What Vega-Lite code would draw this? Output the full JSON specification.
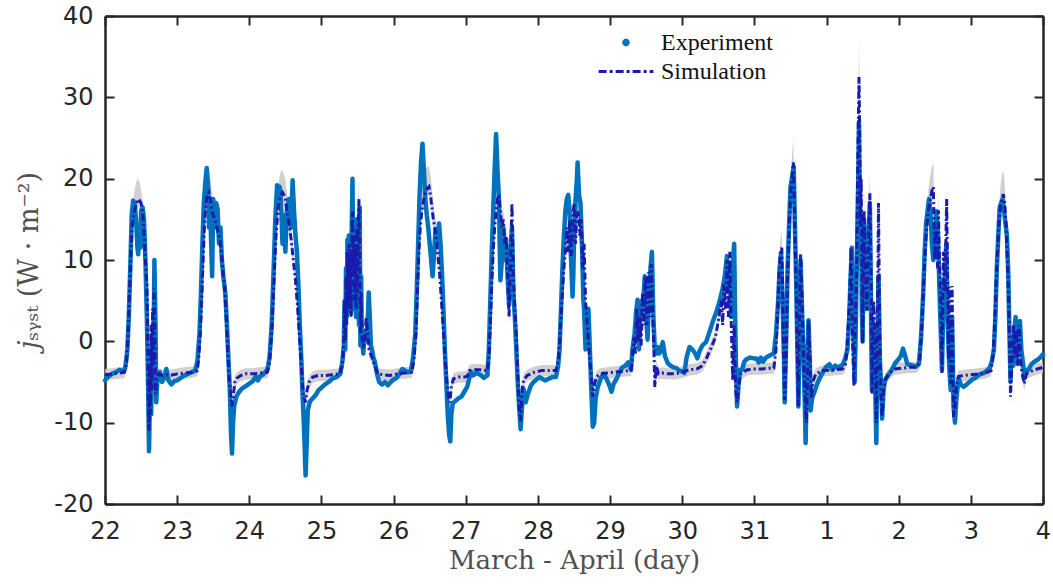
{
"$schema":"https://vega.github.io/schema/vega-lite/v6.json",
"width":938,"height":488,
"autosize":{"type":"none"},
"padding":{"left":105,"top":16,"right":10,"bottom":81},
"background":"white",
"config":{"view":{"stroke":null},"font":"DejaVu Sans"},
"datasets":{
"exp":[
{"t":0.00,"v":-4.8},{"t":0.05,"v":-4.3},{"t":0.10,"v":-4.0},{"t":0.15,"v":-3.8},{"t":0.20,"v":-3.5},{"t":0.25,"v":-3.7},{"t":0.28,"v":-3.3},{"t":0.31,"v":-1.0},{"t":0.33,"v":3.0},{"t":0.35,"v":9.0},{"t":0.37,"v":15.5},{"t":0.39,"v":17.3},{"t":0.41,"v":17.0},{"t":0.43,"v":15.0},{"t":0.45,"v":11.5},{"t":0.46,"v":10.7},{"t":0.48,"v":13.5},{"t":0.49,"v":11.5},{"t":0.50,"v":16.0},{"t":0.52,"v":16.5},{"t":0.54,"v":15.0},{"t":0.56,"v":10.0},{"t":0.58,"v":3.0},{"t":0.595,"v":-4.0},{"t":0.61,"v":-13.5},{"t":0.625,"v":-6.0},{"t":0.64,"v":-9.0},{"t":0.655,"v":0.0},{"t":0.67,"v":-4.0},{"t":0.685,"v":10.0},{"t":0.70,"v":2.0},{"t":0.71,"v":-7.5},{"t":0.73,"v":-4.0},{"t":0.76,"v":-3.8},{"t":0.79,"v":-5.0},{"t":0.82,"v":-4.5},{"t":0.85,"v":-3.4},{"t":0.88,"v":-4.8},{"t":0.92,"v":-5.3},{"t":0.96,"v":-4.9},{"t":1.00,"v":-4.8},{"t":1.05,"v":-4.5},{"t":1.10,"v":-4.2},{"t":1.15,"v":-4.0},{"t":1.20,"v":-3.8},{"t":1.25,"v":-3.6},{"t":1.28,"v":-2.5},{"t":1.31,"v":1.0},{"t":1.33,"v":6.0},{"t":1.35,"v":12.0},{"t":1.37,"v":17.0},{"t":1.39,"v":19.5},{"t":1.41,"v":21.3},{"t":1.43,"v":19.0},{"t":1.44,"v":14.0},{"t":1.46,"v":16.0},{"t":1.47,"v":12.5},{"t":1.485,"v":8.0},{"t":1.50,"v":17.5},{"t":1.52,"v":14.0},{"t":1.54,"v":17.0},{"t":1.56,"v":16.3},{"t":1.58,"v":12.0},{"t":1.60,"v":14.0},{"t":1.62,"v":10.0},{"t":1.64,"v":8.0},{"t":1.667,"v":6.0},{"t":1.69,"v":2.0},{"t":1.71,"v":-2.0},{"t":1.73,"v":-6.0},{"t":1.745,"v":-11.0},{"t":1.76,"v":-13.8},{"t":1.775,"v":-10.0},{"t":1.79,"v":-8.0},{"t":1.82,"v":-6.8},{"t":1.86,"v":-6.2},{"t":1.90,"v":-5.8},{"t":1.95,"v":-5.5},{"t":2.00,"v":-5.2},{"t":2.05,"v":-4.9},{"t":2.09,"v":-4.3},{"t":2.12,"v":-4.8},{"t":2.15,"v":-4.3},{"t":2.20,"v":-4.0},{"t":2.25,"v":-3.5},{"t":2.28,"v":-2.0},{"t":2.31,"v":2.0},{"t":2.34,"v":9.5},{"t":2.36,"v":15.0},{"t":2.385,"v":19.2},{"t":2.40,"v":18.0},{"t":2.42,"v":19.0},{"t":2.44,"v":17.0},{"t":2.46,"v":12.0},{"t":2.48,"v":15.5},{"t":2.50,"v":11.0},{"t":2.52,"v":16.0},{"t":2.55,"v":17.5},{"t":2.58,"v":14.0},{"t":2.60,"v":19.8},{"t":2.62,"v":16.0},{"t":2.64,"v":13.0},{"t":2.66,"v":11.0},{"t":2.68,"v":7.0},{"t":2.70,"v":2.0},{"t":2.72,"v":-2.0},{"t":2.74,"v":-7.0},{"t":2.76,"v":-11.0},{"t":2.78,"v":-16.5},{"t":2.79,"v":-14.0},{"t":2.81,"v":-8.5},{"t":2.84,"v":-7.4},{"t":2.88,"v":-7.0},{"t":2.92,"v":-6.6},{"t":2.96,"v":-6.0},{"t":3.00,"v":-5.7},{"t":3.05,"v":-5.3},{"t":3.10,"v":-5.0},{"t":3.15,"v":-4.6},{"t":3.20,"v":-4.4},{"t":3.26,"v":-4.0},{"t":3.29,"v":-2.5},{"t":3.31,"v":-0.5},{"t":3.32,"v":5.0},{"t":3.33,"v":-1.0},{"t":3.34,"v":9.0},{"t":3.35,"v":3.0},{"t":3.36,"v":12.5},{"t":3.37,"v":4.0},{"t":3.38,"v":13.0},{"t":3.39,"v":6.0},{"t":3.40,"v":10.0},{"t":3.41,"v":3.5},{"t":3.42,"v":14.0},{"t":3.43,"v":20.0},{"t":3.44,"v":9.0},{"t":3.45,"v":12.0},{"t":3.46,"v":4.0},{"t":3.47,"v":10.0},{"t":3.48,"v":3.0},{"t":3.49,"v":15.0},{"t":3.50,"v":5.0},{"t":3.51,"v":13.0},{"t":3.52,"v":2.0},{"t":3.53,"v":16.5},{"t":3.54,"v":-0.5},{"t":3.55,"v":8.0},{"t":3.56,"v":0.5},{"t":3.58,"v":-1.5},{"t":3.60,"v":1.0},{"t":3.62,"v":0.0},{"t":3.64,"v":2.0},{"t":3.655,"v":6.0},{"t":3.67,"v":3.0},{"t":3.685,"v":-0.5},{"t":3.70,"v":-1.0},{"t":3.72,"v":-2.0},{"t":3.74,"v":-2.5},{"t":3.77,"v":-4.0},{"t":3.80,"v":-5.0},{"t":3.84,"v":-5.3},{"t":3.88,"v":-5.0},{"t":3.92,"v":-5.4},{"t":3.96,"v":-5.0},{"t":4.00,"v":-4.7},{"t":4.04,"v":-4.5},{"t":4.08,"v":-4.0},{"t":4.12,"v":-3.4},{"t":4.16,"v":-3.6},{"t":4.20,"v":-3.8},{"t":4.24,"v":-3.6},{"t":4.27,"v":-2.0},{"t":4.30,"v":1.0},{"t":4.32,"v":6.0},{"t":4.34,"v":12.0},{"t":4.36,"v":18.0},{"t":4.38,"v":22.0},{"t":4.40,"v":24.3},{"t":4.42,"v":21.0},{"t":4.44,"v":17.5},{"t":4.46,"v":15.5},{"t":4.48,"v":14.0},{"t":4.50,"v":12.0},{"t":4.52,"v":10.0},{"t":4.54,"v":8.0},{"t":4.56,"v":10.5},{"t":4.58,"v":13.8},{"t":4.60,"v":12.0},{"t":4.63,"v":14.5},{"t":4.65,"v":12.0},{"t":4.67,"v":8.5},{"t":4.69,"v":4.0},{"t":4.71,"v":-1.0},{"t":4.73,"v":-5.0},{"t":4.75,"v":-9.0},{"t":4.77,"v":-11.5},{"t":4.785,"v":-12.3},{"t":4.80,"v":-9.0},{"t":4.82,"v":-7.6},{"t":4.86,"v":-7.3},{"t":4.90,"v":-7.0},{"t":4.94,"v":-6.8},{"t":4.98,"v":-6.2},{"t":5.02,"v":-5.6},{"t":5.05,"v":-4.5},{"t":5.07,"v":-3.7},{"t":5.10,"v":-4.2},{"t":5.15,"v":-3.9},{"t":5.20,"v":-4.1},{"t":5.25,"v":-4.5},{"t":5.30,"v":-4.2},{"t":5.32,"v":-1.0},{"t":5.34,"v":5.0},{"t":5.36,"v":11.0},{"t":5.38,"v":16.0},{"t":5.40,"v":21.0},{"t":5.42,"v":25.5},{"t":5.44,"v":21.0},{"t":5.46,"v":17.5},{"t":5.47,"v":12.0},{"t":5.48,"v":7.5},{"t":5.50,"v":10.0},{"t":5.52,"v":14.0},{"t":5.54,"v":10.0},{"t":5.56,"v":12.5},{"t":5.58,"v":8.0},{"t":5.60,"v":4.5},{"t":5.62,"v":10.0},{"t":5.64,"v":14.0},{"t":5.66,"v":6.0},{"t":5.68,"v":3.0},{"t":5.70,"v":-1.0},{"t":5.72,"v":-5.0},{"t":5.74,"v":-8.0},{"t":5.76,"v":-10.8},{"t":5.78,"v":-8.0},{"t":5.80,"v":-5.8},{"t":5.83,"v":-7.5},{"t":5.86,"v":-6.5},{"t":5.90,"v":-5.5},{"t":5.94,"v":-5.0},{"t":5.98,"v":-4.7},{"t":6.02,"v":-4.4},{"t":6.06,"v":-4.6},{"t":6.10,"v":-4.8},{"t":6.15,"v":-4.6},{"t":6.20,"v":-4.4},{"t":6.25,"v":-4.4},{"t":6.28,"v":-3.0},{"t":6.30,"v":-1.0},{"t":6.32,"v":4.0},{"t":6.34,"v":9.0},{"t":6.36,"v":13.0},{"t":6.38,"v":16.0},{"t":6.40,"v":17.5},{"t":6.42,"v":18.0},{"t":6.44,"v":16.0},{"t":6.46,"v":10.0},{"t":6.48,"v":5.5},{"t":6.49,"v":8.0},{"t":6.50,"v":12.0},{"t":6.52,"v":17.0},{"t":6.54,"v":20.0},{"t":6.55,"v":22.0},{"t":6.57,"v":18.0},{"t":6.59,"v":17.0},{"t":6.61,"v":12.0},{"t":6.63,"v":5.0},{"t":6.64,"v":4.0},{"t":6.66,"v":-1.0},{"t":6.68,"v":3.5},{"t":6.70,"v":4.0},{"t":6.72,"v":-1.0},{"t":6.74,"v":-6.0},{"t":6.76,"v":-10.5},{"t":6.78,"v":-10.0},{"t":6.80,"v":-7.0},{"t":6.83,"v":-5.6},{"t":6.87,"v":-4.6},{"t":6.91,"v":-4.0},{"t":6.95,"v":-4.6},{"t":6.99,"v":-5.4},{"t":7.02,"v":-6.2},{"t":7.05,"v":-5.2},{"t":7.09,"v":-4.6},{"t":7.13,"v":-3.8},{"t":7.17,"v":-3.2},{"t":7.21,"v":-3.0},{"t":7.25,"v":-2.6},{"t":7.27,"v":-3.0},{"t":7.29,"v":-3.5},{"t":7.31,"v":-1.0},{"t":7.34,"v":1.0},{"t":7.36,"v":3.5},{"t":7.38,"v":5.1},{"t":7.40,"v":-1.0},{"t":7.42,"v":3.0},{"t":7.44,"v":5.0},{"t":7.46,"v":4.5},{"t":7.48,"v":8.0},{"t":7.50,"v":3.0},{"t":7.52,"v":0.2},{"t":7.54,"v":6.0},{"t":7.56,"v":9.0},{"t":7.58,"v":11.0},{"t":7.60,"v":3.0},{"t":7.62,"v":-1.0},{"t":7.64,"v":-1.5},{"t":7.66,"v":-0.7},{"t":7.68,"v":-1.5},{"t":7.70,"v":-1.2},{"t":7.73,"v":-0.1},{"t":7.76,"v":-1.8},{"t":7.80,"v":-2.7},{"t":7.84,"v":-3.0},{"t":7.88,"v":-3.2},{"t":7.92,"v":-3.3},{"t":7.96,"v":-3.6},{"t":8.00,"v":-3.7},{"t":8.03,"v":-3.9},{"t":8.06,"v":-2.0},{"t":8.10,"v":-0.7},{"t":8.14,"v":-1.0},{"t":8.18,"v":-1.5},{"t":8.21,"v":-2.1},{"t":8.24,"v":-1.2},{"t":8.28,"v":-0.5},{"t":8.33,"v":-0.1},{"t":8.38,"v":1.2},{"t":8.43,"v":2.6},{"t":8.48,"v":3.8},{"t":8.52,"v":5.0},{"t":8.56,"v":6.5},{"t":8.59,"v":8.0},{"t":8.62,"v":10.5},{"t":8.64,"v":6.0},{"t":8.66,"v":9.0},{"t":8.68,"v":3.0},{"t":8.70,"v":9.5},{"t":8.72,"v":12.0},{"t":8.73,"v":5.0},{"t":8.745,"v":-3.0},{"t":8.76,"v":-8.0},{"t":8.78,"v":-5.5},{"t":8.80,"v":-3.5},{"t":8.83,"v":-3.5},{"t":8.86,"v":-2.5},{"t":8.89,"v":-2.2},{"t":8.94,"v":-2.0},{"t":8.99,"v":-2.1},{"t":9.03,"v":-2.1},{"t":9.06,"v":-2.6},{"t":9.09,"v":-2.0},{"t":9.12,"v":-2.5},{"t":9.16,"v":-2.0},{"t":9.20,"v":-1.8},{"t":9.24,"v":-1.6},{"t":9.27,"v":-1.5},{"t":9.30,"v":1.0},{"t":9.33,"v":5.0},{"t":9.35,"v":9.0},{"t":9.37,"v":10.8},{"t":9.39,"v":5.0},{"t":9.41,"v":-2.0},{"t":9.42,"v":-7.5},{"t":9.44,"v":0.0},{"t":9.46,"v":9.0},{"t":9.48,"v":14.0},{"t":9.50,"v":19.0},{"t":9.52,"v":20.0},{"t":9.545,"v":21.5},{"t":9.56,"v":15.0},{"t":9.58,"v":7.0},{"t":9.60,"v":-3.0},{"t":9.61,"v":-8.0},{"t":9.63,"v":3.0},{"t":9.64,"v":10.0},{"t":9.66,"v":4.0},{"t":9.68,"v":-1.5},{"t":9.70,"v":-8.0},{"t":9.71,"v":-12.5},{"t":9.73,"v":-4.0},{"t":9.75,"v":2.6},{"t":9.77,"v":-3.0},{"t":9.78,"v":-8.5},{"t":9.80,"v":-7.0},{"t":9.84,"v":-6.0},{"t":9.88,"v":-5.0},{"t":9.92,"v":-4.3},{"t":9.96,"v":-3.6},{"t":10.00,"v":-3.1},{"t":10.04,"v":-2.8},{"t":10.08,"v":-3.5},{"t":10.12,"v":-3.0},{"t":10.16,"v":-3.3},{"t":10.20,"v":-3.0},{"t":10.23,"v":-2.8},{"t":10.26,"v":-2.0},{"t":10.29,"v":-1.0},{"t":10.31,"v":2.0},{"t":10.33,"v":7.0},{"t":10.35,"v":11.5},{"t":10.37,"v":2.0},{"t":10.39,"v":-5.0},{"t":10.41,"v":4.0},{"t":10.42,"v":10.0},{"t":10.44,"v":20.0},{"t":10.45,"v":27.0},{"t":10.46,"v":17.0},{"t":10.48,"v":13.0},{"t":10.49,"v":4.0},{"t":10.50,"v":0.0},{"t":10.51,"v":8.0},{"t":10.52,"v":15.0},{"t":10.54,"v":9.0},{"t":10.56,"v":4.0},{"t":10.58,"v":12.0},{"t":10.60,"v":17.0},{"t":10.61,"v":10.0},{"t":10.62,"v":0.0},{"t":10.63,"v":-6.0},{"t":10.65,"v":-2.0},{"t":10.66,"v":2.0},{"t":10.68,"v":-8.0},{"t":10.69,"v":-12.5},{"t":10.70,"v":-5.0},{"t":10.72,"v":8.0},{"t":10.73,"v":3.0},{"t":10.74,"v":-2.5},{"t":10.76,"v":-6.0},{"t":10.77,"v":-9.5},{"t":10.79,"v":-6.0},{"t":10.81,"v":-4.8},{"t":10.85,"v":-4.2},{"t":10.90,"v":-3.6},{"t":10.95,"v":-2.7},{"t":10.99,"v":-2.3},{"t":11.03,"v":-1.8},{"t":11.06,"v":-0.9},{"t":11.09,"v":-1.8},{"t":11.12,"v":-2.8},{"t":11.16,"v":-2.9},{"t":11.20,"v":-3.0},{"t":11.24,"v":-3.1},{"t":11.28,"v":-2.8},{"t":11.31,"v":0.5},{"t":11.34,"v":6.0},{"t":11.36,"v":11.0},{"t":11.38,"v":14.5},{"t":11.40,"v":16.0},{"t":11.42,"v":17.5},{"t":11.44,"v":16.0},{"t":11.46,"v":12.0},{"t":11.48,"v":10.0},{"t":11.50,"v":12.0},{"t":11.52,"v":16.0},{"t":11.54,"v":14.0},{"t":11.56,"v":8.0},{"t":11.58,"v":2.0},{"t":11.60,"v":-3.5},{"t":11.62,"v":5.0},{"t":11.64,"v":8.0},{"t":11.66,"v":12.0},{"t":11.68,"v":2.0},{"t":11.70,"v":-3.0},{"t":11.72,"v":-6.0},{"t":11.74,"v":3.0},{"t":11.76,"v":-8.0},{"t":11.78,"v":-10.0},{"t":11.80,"v":-7.0},{"t":11.83,"v":-4.5},{"t":11.86,"v":-5.3},{"t":11.90,"v":-5.6},{"t":11.94,"v":-5.3},{"t":11.98,"v":-5.0},{"t":12.02,"v":-4.7},{"t":12.06,"v":-4.5},{"t":12.10,"v":-4.2},{"t":12.14,"v":-4.0},{"t":12.18,"v":-3.9},{"t":12.22,"v":-3.6},{"t":12.26,"v":-3.3},{"t":12.29,"v":-2.5},{"t":12.32,"v":-1.0},{"t":12.34,"v":3.0},{"t":12.36,"v":9.0},{"t":12.38,"v":13.0},{"t":12.40,"v":16.5},{"t":12.42,"v":17.0},{"t":12.44,"v":17.5},{"t":12.46,"v":16.0},{"t":12.48,"v":14.5},{"t":12.50,"v":13.0},{"t":12.52,"v":8.0},{"t":12.53,"v":3.0},{"t":12.55,"v":-5.0},{"t":12.57,"v":0.5},{"t":12.59,"v":-3.0},{"t":12.61,"v":2.0},{"t":12.62,"v":3.0},{"t":12.64,"v":-2.7},{"t":12.66,"v":1.0},{"t":12.68,"v":2.5},{"t":12.70,"v":-1.0},{"t":12.72,"v":-2.5},{"t":12.745,"v":-4.5},{"t":12.77,"v":-3.5},{"t":12.80,"v":-3.5},{"t":12.84,"v":-2.8},{"t":12.88,"v":-2.5},{"t":12.92,"v":-2.3},{"t":12.96,"v":-2.0},{"t":13.00,"v":-1.6}
],
"sim":[
{"t":0.00,"v":-4.1,"lo":-4.8,"hi":-3.4},{"t":0.10,"v":-4.0,"lo":-4.7,"hi":-3.3},{"t":0.20,"v":-3.9,"lo":-4.6,"hi":-3.2},{"t":0.27,"v":-3.8,"lo":-4.5,"hi":-3.1},{"t":0.30,"v":-2.5,"lo":-3.5,"hi":-1.0},{"t":0.32,"v":1.0,"lo":0.0,"hi":2.5},{"t":0.34,"v":6.0,"lo":5.0,"hi":7.5},{"t":0.36,"v":11.0,"lo":10.0,"hi":12.5},{"t":0.38,"v":14.5,"lo":13.5,"hi":16.5},{"t":0.40,"v":15.5,"lo":14.5,"hi":18.0},{"t":0.42,"v":16.5,"lo":15.5,"hi":19.0},{"t":0.44,"v":17.0,"lo":16.0,"hi":19.8},{"t":0.46,"v":17.5,"lo":16.5,"hi":20.0},{"t":0.48,"v":17.3,"lo":16.3,"hi":19.5},{"t":0.50,"v":17.0,"lo":16.0,"hi":18.5},{"t":0.52,"v":16.0,"lo":15.0,"hi":17.5},{"t":0.54,"v":13.5,"lo":12.5,"hi":15.0},{"t":0.56,"v":10.0,"lo":9.0,"hi":11.5},{"t":0.58,"v":7.0,"lo":6.0,"hi":8.5},{"t":0.59,"v":2.0,"lo":1.0,"hi":3.5},{"t":0.60,"v":-6.5,"lo":-7.5,"hi":-5.0},{"t":0.61,"v":-11.0,"lo":-12.0,"hi":-10.0},{"t":0.62,"v":-3.0,"lo":-4.0,"hi":-2.0},{"t":0.63,"v":-9.0,"lo":-10.0,"hi":-8.0},{"t":0.64,"v":2.0,"lo":1.0,"hi":3.0},{"t":0.65,"v":-6.0,"lo":-7.0,"hi":-5.0},{"t":0.66,"v":4.0,"lo":3.0,"hi":5.0},{"t":0.67,"v":-3.0,"lo":-4.0,"hi":-2.0},{"t":0.68,"v":6.5,"lo":5.5,"hi":7.5},{"t":0.69,"v":2.0,"lo":1.0,"hi":3.0},{"t":0.70,"v":-6.5,"lo":-7.5,"hi":-5.5},{"t":0.72,"v":-4.5,"lo":-5.2,"hi":-3.8},{"t":0.75,"v":-4.0,"lo":-4.7,"hi":-3.3},{"t":0.80,"v":-4.2,"lo":-4.9,"hi":-3.5},{"t":0.85,"v":-4.1,"lo":-4.8,"hi":-3.4},{"t":0.90,"v":-4.2,"lo":-4.9,"hi":-3.5},{"t":1.00,"v":-4.0,"lo":-4.7,"hi":-3.3},{"t":1.10,"v":-3.9,"lo":-4.6,"hi":-3.2},{"t":1.20,"v":-3.8,"lo":-4.5,"hi":-3.1},{"t":1.28,"v":-3.6,"lo":-4.3,"hi":-2.9},{"t":1.30,"v":-2.0,"lo":-3.0,"hi":-0.5},{"t":1.32,"v":1.0,"lo":0.0,"hi":2.5},{"t":1.34,"v":5.0,"lo":4.0,"hi":6.5},{"t":1.36,"v":10.0,"lo":9.0,"hi":11.5},{"t":1.38,"v":14.5,"lo":13.5,"hi":16.5},{"t":1.40,"v":17.0,"lo":16.0,"hi":19.5},{"t":1.42,"v":18.0,"lo":17.0,"hi":20.8},{"t":1.44,"v":18.3,"lo":17.3,"hi":21.0},{"t":1.46,"v":17.5,"lo":16.5,"hi":20.0},{"t":1.48,"v":16.0,"lo":15.0,"hi":18.5},{"t":1.50,"v":15.5,"lo":14.5,"hi":17.5},{"t":1.52,"v":15.0,"lo":14.0,"hi":17.0},{"t":1.55,"v":14.0,"lo":13.0,"hi":16.0},{"t":1.58,"v":13.0,"lo":12.0,"hi":14.5},{"t":1.60,"v":12.0,"lo":11.0,"hi":13.5},{"t":1.62,"v":10.0,"lo":9.0,"hi":11.5},{"t":1.64,"v":8.0,"lo":7.0,"hi":9.5},{"t":1.66,"v":6.5,"lo":5.5,"hi":8.0},{"t":1.68,"v":3.0,"lo":2.0,"hi":4.5},{"t":1.70,"v":-1.0,"lo":-2.0,"hi":0.5},{"t":1.72,"v":-4.5,"lo":-5.5,"hi":-3.5},{"t":1.74,"v":-6.5,"lo":-7.5,"hi":-5.5},{"t":1.76,"v":-8.0,"lo":-9.0,"hi":-7.0},{"t":1.78,"v":-6.5,"lo":-7.5,"hi":-5.5},{"t":1.80,"v":-5.0,"lo":-5.8,"hi":-4.2},{"t":1.83,"v":-4.5,"lo":-5.2,"hi":-3.8},{"t":1.88,"v":-4.2,"lo":-4.9,"hi":-3.5},{"t":1.95,"v":-4.0,"lo":-4.7,"hi":-3.3},{"t":2.05,"v":-4.0,"lo":-4.7,"hi":-3.3},{"t":2.15,"v":-3.9,"lo":-4.6,"hi":-3.2},{"t":2.25,"v":-3.8,"lo":-4.5,"hi":-3.1},{"t":2.28,"v":-2.5,"lo":-3.5,"hi":-1.0},{"t":2.31,"v":1.0,"lo":0.0,"hi":2.5},{"t":2.34,"v":7.0,"lo":6.0,"hi":8.5},{"t":2.37,"v":13.0,"lo":12.0,"hi":15.0},{"t":2.40,"v":16.5,"lo":15.5,"hi":19.0},{"t":2.42,"v":17.5,"lo":16.5,"hi":20.3},{"t":2.44,"v":18.0,"lo":17.0,"hi":21.0},{"t":2.46,"v":18.3,"lo":17.3,"hi":21.0},{"t":2.48,"v":18.0,"lo":17.0,"hi":20.5},{"t":2.50,"v":17.5,"lo":16.5,"hi":19.8},{"t":2.52,"v":16.0,"lo":15.0,"hi":18.5},{"t":2.55,"v":14.5,"lo":13.5,"hi":16.5},{"t":2.58,"v":12.5,"lo":11.5,"hi":14.0},{"t":2.61,"v":10.0,"lo":9.0,"hi":11.5},{"t":2.64,"v":7.5,"lo":6.5,"hi":9.0},{"t":2.67,"v":4.0,"lo":3.0,"hi":5.5},{"t":2.70,"v":0.0,"lo":-1.0,"hi":1.5},{"t":2.72,"v":-3.0,"lo":-4.0,"hi":-2.0},{"t":2.74,"v":-5.5,"lo":-6.5,"hi":-4.5},{"t":2.76,"v":-7.0,"lo":-8.0,"hi":-6.0},{"t":2.78,"v":-7.5,"lo":-8.5,"hi":-6.5},{"t":2.80,"v":-6.0,"lo":-7.0,"hi":-5.0},{"t":2.83,"v":-5.0,"lo":-5.8,"hi":-4.2},{"t":2.88,"v":-4.4,"lo":-5.1,"hi":-3.7},{"t":2.95,"v":-4.2,"lo":-4.9,"hi":-3.5},{"t":3.05,"v":-4.2,"lo":-4.9,"hi":-3.5},{"t":3.15,"v":-4.1,"lo":-4.8,"hi":-3.4},{"t":3.25,"v":-4.0,"lo":-4.7,"hi":-3.3},{"t":3.29,"v":-3.0,"lo":-4.0,"hi":-2.0},{"t":3.31,"v":0.0,"lo":-1.0,"hi":1.0},{"t":3.32,"v":5.0,"lo":4.0,"hi":6.0},{"t":3.33,"v":0.0,"lo":-1.0,"hi":1.0},{"t":3.34,"v":8.0,"lo":7.0,"hi":9.0},{"t":3.35,"v":2.0,"lo":1.0,"hi":3.0},{"t":3.36,"v":11.0,"lo":10.0,"hi":12.0},{"t":3.37,"v":4.0,"lo":3.0,"hi":5.0},{"t":3.38,"v":12.0,"lo":11.0,"hi":13.0},{"t":3.39,"v":5.0,"lo":4.0,"hi":6.0},{"t":3.40,"v":10.5,"lo":9.5,"hi":11.5},{"t":3.41,"v":3.0,"lo":2.0,"hi":4.0},{"t":3.42,"v":13.0,"lo":12.0,"hi":14.5},{"t":3.43,"v":16.0,"lo":15.0,"hi":18.5},{"t":3.44,"v":8.0,"lo":7.0,"hi":9.0},{"t":3.45,"v":13.0,"lo":12.0,"hi":14.5},{"t":3.46,"v":5.0,"lo":4.0,"hi":6.0},{"t":3.47,"v":11.0,"lo":10.0,"hi":12.0},{"t":3.48,"v":4.0,"lo":3.0,"hi":5.0},{"t":3.49,"v":14.0,"lo":13.0,"hi":15.5},{"t":3.50,"v":6.0,"lo":5.0,"hi":7.0},{"t":3.51,"v":15.0,"lo":14.0,"hi":17.0},{"t":3.52,"v":17.5,"lo":16.5,"hi":20.0},{"t":3.53,"v":9.0,"lo":8.0,"hi":10.0},{"t":3.54,"v":1.0,"lo":0.0,"hi":2.0},{"t":3.55,"v":6.0,"lo":5.0,"hi":7.0},{"t":3.56,"v":0.5,"lo":-0.5,"hi":1.5},{"t":3.58,"v":-0.5,"lo":-1.5,"hi":0.5},{"t":3.60,"v":-0.2,"lo":-1.2,"hi":0.8},{"t":3.62,"v":3.0,"lo":2.0,"hi":4.0},{"t":3.64,"v":1.0,"lo":0.0,"hi":2.0},{"t":3.66,"v":-1.0,"lo":-2.0,"hi":0.0},{"t":3.70,"v":-2.0,"lo":-2.8,"hi":-1.2},{"t":3.74,"v":-3.0,"lo":-3.7,"hi":-2.3},{"t":3.78,"v":-4.0,"lo":-4.7,"hi":-3.3},{"t":3.85,"v":-4.1,"lo":-4.8,"hi":-3.4},{"t":3.95,"v":-4.2,"lo":-4.9,"hi":-3.5},{"t":4.05,"v":-4.0,"lo":-4.7,"hi":-3.3},{"t":4.15,"v":-3.9,"lo":-4.6,"hi":-3.2},{"t":4.25,"v":-3.8,"lo":-4.5,"hi":-3.1},{"t":4.28,"v":-2.5,"lo":-3.5,"hi":-1.0},{"t":4.31,"v":1.0,"lo":0.0,"hi":2.5},{"t":4.33,"v":6.0,"lo":5.0,"hi":7.5},{"t":4.35,"v":11.0,"lo":10.0,"hi":12.5},{"t":4.37,"v":14.0,"lo":13.0,"hi":16.0},{"t":4.39,"v":16.0,"lo":15.0,"hi":18.5},{"t":4.41,"v":17.0,"lo":16.0,"hi":19.5},{"t":4.43,"v":18.0,"lo":17.0,"hi":20.8},{"t":4.45,"v":18.5,"lo":17.5,"hi":21.3},{"t":4.47,"v":18.8,"lo":17.8,"hi":21.5},{"t":4.49,"v":19.0,"lo":18.0,"hi":21.5},{"t":4.51,"v":18.0,"lo":17.0,"hi":20.5},{"t":4.53,"v":16.5,"lo":15.5,"hi":19.0},{"t":4.55,"v":15.0,"lo":14.0,"hi":17.0},{"t":4.58,"v":13.5,"lo":12.5,"hi":15.0},{"t":4.61,"v":11.0,"lo":10.0,"hi":12.5},{"t":4.64,"v":8.0,"lo":7.0,"hi":9.5},{"t":4.67,"v":4.0,"lo":3.0,"hi":5.5},{"t":4.70,"v":0.0,"lo":-1.0,"hi":1.5},{"t":4.72,"v":-3.0,"lo":-4.0,"hi":-2.0},{"t":4.74,"v":-5.0,"lo":-6.0,"hi":-4.0},{"t":4.76,"v":-7.0,"lo":-8.0,"hi":-6.0},{"t":4.78,"v":-7.5,"lo":-8.5,"hi":-6.5},{"t":4.80,"v":-5.5,"lo":-6.3,"hi":-4.7},{"t":4.83,"v":-4.6,"lo":-5.3,"hi":-3.9},{"t":4.90,"v":-4.4,"lo":-5.1,"hi":-3.7},{"t":4.98,"v":-4.4,"lo":-5.1,"hi":-3.7},{"t":5.02,"v":-4.3,"lo":-5.0,"hi":-3.6},{"t":5.05,"v":-3.6,"lo":-4.3,"hi":-2.9},{"t":5.10,"v":-3.5,"lo":-4.2,"hi":-2.8},{"t":5.20,"v":-3.5,"lo":-4.2,"hi":-2.8},{"t":5.30,"v":-3.6,"lo":-4.3,"hi":-2.9},{"t":5.32,"v":-2.0,"lo":-3.0,"hi":-0.5},{"t":5.34,"v":2.0,"lo":1.0,"hi":3.5},{"t":5.36,"v":7.0,"lo":6.0,"hi":8.5},{"t":5.38,"v":11.0,"lo":10.0,"hi":12.5},{"t":5.40,"v":14.0,"lo":13.0,"hi":16.0},{"t":5.42,"v":16.0,"lo":15.0,"hi":18.5},{"t":5.44,"v":17.5,"lo":16.5,"hi":20.0},{"t":5.46,"v":18.0,"lo":17.0,"hi":20.5},{"t":5.48,"v":16.0,"lo":15.0,"hi":18.0},{"t":5.50,"v":14.0,"lo":13.0,"hi":15.5},{"t":5.52,"v":15.0,"lo":14.0,"hi":16.5},{"t":5.54,"v":12.0,"lo":11.0,"hi":13.5},{"t":5.56,"v":13.0,"lo":12.0,"hi":14.5},{"t":5.58,"v":8.0,"lo":7.0,"hi":9.5},{"t":5.60,"v":3.0,"lo":2.0,"hi":4.0},{"t":5.62,"v":10.0,"lo":9.0,"hi":11.0},{"t":5.64,"v":17.0,"lo":16.0,"hi":18.5},{"t":5.66,"v":8.0,"lo":7.0,"hi":9.0},{"t":5.68,"v":4.0,"lo":3.0,"hi":5.0},{"t":5.70,"v":1.0,"lo":0.0,"hi":2.0},{"t":5.72,"v":-4.0,"lo":-5.0,"hi":-3.0},{"t":5.74,"v":-8.0,"lo":-9.0,"hi":-7.0},{"t":5.76,"v":-9.8,"lo":-10.8,"hi":-8.8},{"t":5.78,"v":-6.0,"lo":-7.0,"hi":-5.0},{"t":5.80,"v":-4.8,"lo":-5.6,"hi":-4.0},{"t":5.85,"v":-4.2,"lo":-4.9,"hi":-3.5},{"t":5.95,"v":-3.8,"lo":-4.5,"hi":-3.1},{"t":6.05,"v":-3.6,"lo":-4.3,"hi":-2.9},{"t":6.15,"v":-3.6,"lo":-4.3,"hi":-2.9},{"t":6.25,"v":-3.6,"lo":-4.3,"hi":-2.9},{"t":6.28,"v":-2.5,"lo":-3.5,"hi":-1.5},{"t":6.30,"v":0.0,"lo":-1.0,"hi":1.5},{"t":6.32,"v":3.0,"lo":2.0,"hi":4.5},{"t":6.34,"v":6.0,"lo":5.0,"hi":7.5},{"t":6.36,"v":9.0,"lo":8.0,"hi":10.5},{"t":6.38,"v":11.0,"lo":10.0,"hi":12.5},{"t":6.40,"v":14.0,"lo":13.0,"hi":15.5},{"t":6.42,"v":11.0,"lo":10.0,"hi":12.0},{"t":6.44,"v":15.0,"lo":14.0,"hi":16.5},{"t":6.46,"v":10.5,"lo":9.5,"hi":11.5},{"t":6.48,"v":14.5,"lo":13.5,"hi":16.0},{"t":6.50,"v":17.0,"lo":16.0,"hi":18.8},{"t":6.52,"v":12.0,"lo":11.0,"hi":13.0},{"t":6.54,"v":15.5,"lo":14.5,"hi":17.0},{"t":6.56,"v":16.0,"lo":15.0,"hi":17.5},{"t":6.58,"v":13.0,"lo":12.0,"hi":14.5},{"t":6.60,"v":15.0,"lo":14.0,"hi":16.5},{"t":6.62,"v":9.0,"lo":8.0,"hi":10.0},{"t":6.64,"v":12.0,"lo":11.0,"hi":13.0},{"t":6.66,"v":5.0,"lo":4.0,"hi":6.0},{"t":6.68,"v":2.5,"lo":1.5,"hi":3.5},{"t":6.70,"v":0.0,"lo":-1.0,"hi":1.0},{"t":6.72,"v":-2.5,"lo":-3.5,"hi":-1.5},{"t":6.74,"v":-4.0,"lo":-5.0,"hi":-3.0},{"t":6.76,"v":-6.8,"lo":-7.8,"hi":-5.8},{"t":6.78,"v":-5.5,"lo":-6.3,"hi":-4.7},{"t":6.81,"v":-4.4,"lo":-5.1,"hi":-3.7},{"t":6.86,"v":-4.0,"lo":-4.7,"hi":-3.3},{"t":6.95,"v":-3.9,"lo":-4.6,"hi":-3.2},{"t":7.05,"v":-3.8,"lo":-4.5,"hi":-3.1},{"t":7.15,"v":-3.7,"lo":-4.4,"hi":-3.0},{"t":7.25,"v":-3.6,"lo":-4.3,"hi":-2.9},{"t":7.29,"v":-3.6,"lo":-4.3,"hi":-2.9},{"t":7.31,"v":-2.0,"lo":-3.0,"hi":-1.0},{"t":7.33,"v":0.5,"lo":-0.5,"hi":1.5},{"t":7.35,"v":-1.5,"lo":-2.5,"hi":-0.5},{"t":7.37,"v":4.0,"lo":3.0,"hi":5.0},{"t":7.39,"v":0.0,"lo":-1.0,"hi":1.0},{"t":7.41,"v":3.0,"lo":2.0,"hi":4.0},{"t":7.43,"v":-0.5,"lo":-1.5,"hi":0.5},{"t":7.45,"v":6.0,"lo":5.0,"hi":7.0},{"t":7.47,"v":2.0,"lo":1.0,"hi":3.0},{"t":7.49,"v":8.0,"lo":7.0,"hi":9.0},{"t":7.51,"v":2.0,"lo":1.0,"hi":3.0},{"t":7.53,"v":8.5,"lo":7.5,"hi":9.5},{"t":7.55,"v":3.0,"lo":2.0,"hi":4.0},{"t":7.57,"v":9.5,"lo":8.5,"hi":10.5},{"t":7.59,"v":4.0,"lo":3.0,"hi":5.0},{"t":7.61,"v":-2.0,"lo":-3.0,"hi":-1.0},{"t":7.62,"v":-5.6,"lo":-6.6,"hi":-4.6},{"t":7.64,"v":-3.0,"lo":-3.8,"hi":-2.2},{"t":7.67,"v":-4.0,"lo":-4.7,"hi":-3.3},{"t":7.72,"v":-3.9,"lo":-4.6,"hi":-3.2},{"t":7.80,"v":-4.0,"lo":-4.7,"hi":-3.3},{"t":7.90,"v":-4.0,"lo":-4.7,"hi":-3.3},{"t":8.00,"v":-3.8,"lo":-4.5,"hi":-3.1},{"t":8.10,"v":-3.5,"lo":-4.2,"hi":-2.8},{"t":8.20,"v":-3.4,"lo":-4.1,"hi":-2.7},{"t":8.28,"v":-3.0,"lo":-3.7,"hi":-2.3},{"t":8.34,"v":-2.0,"lo":-2.8,"hi":-1.2},{"t":8.40,"v":-0.8,"lo":-1.6,"hi":0.0},{"t":8.46,"v":0.5,"lo":-0.3,"hi":1.3},{"t":8.50,"v":2.5,"lo":1.5,"hi":3.5},{"t":8.54,"v":5.0,"lo":4.0,"hi":6.0},{"t":8.56,"v":2.0,"lo":1.0,"hi":3.0},{"t":8.58,"v":7.0,"lo":6.0,"hi":8.0},{"t":8.60,"v":4.0,"lo":3.0,"hi":5.0},{"t":8.62,"v":10.0,"lo":9.0,"hi":11.0},{"t":8.64,"v":3.0,"lo":2.0,"hi":4.0},{"t":8.66,"v":11.0,"lo":10.0,"hi":12.0},{"t":8.68,"v":2.0,"lo":1.0,"hi":3.0},{"t":8.70,"v":-4.8,"lo":-5.8,"hi":-3.8},{"t":8.72,"v":2.0,"lo":1.0,"hi":3.0},{"t":8.74,"v":-6.0,"lo":-7.0,"hi":-5.0},{"t":8.76,"v":-7.5,"lo":-8.5,"hi":-6.5},{"t":8.78,"v":-5.5,"lo":-6.3,"hi":-4.7},{"t":8.81,"v":-4.0,"lo":-4.7,"hi":-3.3},{"t":8.90,"v":-3.5,"lo":-4.2,"hi":-2.8},{"t":9.00,"v":-3.4,"lo":-4.1,"hi":-2.7},{"t":9.10,"v":-3.4,"lo":-4.1,"hi":-2.7},{"t":9.20,"v":-3.3,"lo":-4.0,"hi":-2.6},{"t":9.27,"v":-3.3,"lo":-4.0,"hi":-2.6},{"t":9.30,"v":-1.0,"lo":-2.0,"hi":0.0},{"t":9.32,"v":3.0,"lo":2.0,"hi":4.0},{"t":9.34,"v":8.0,"lo":7.0,"hi":9.5},{"t":9.36,"v":11.0,"lo":10.0,"hi":12.5},{"t":9.38,"v":11.5,"lo":10.5,"hi":13.5},{"t":9.40,"v":2.0,"lo":1.0,"hi":3.0},{"t":9.42,"v":-7.2,"lo":-8.2,"hi":-6.2},{"t":9.44,"v":-2.0,"lo":-3.0,"hi":-1.0},{"t":9.46,"v":8.0,"lo":7.0,"hi":9.0},{"t":9.48,"v":13.0,"lo":12.0,"hi":14.5},{"t":9.50,"v":18.0,"lo":17.0,"hi":20.0},{"t":9.52,"v":20.0,"lo":19.0,"hi":22.5},{"t":9.54,"v":22.0,"lo":21.0,"hi":25.0},{"t":9.56,"v":14.0,"lo":13.0,"hi":15.5},{"t":9.58,"v":6.7,"lo":5.7,"hi":7.7},{"t":9.60,"v":-4.0,"lo":-5.0,"hi":-3.0},{"t":9.61,"v":-8.0,"lo":-9.0,"hi":-7.0},{"t":9.62,"v":0.0,"lo":-1.0,"hi":1.0},{"t":9.64,"v":10.8,"lo":9.8,"hi":12.0},{"t":9.66,"v":5.0,"lo":4.0,"hi":6.0},{"t":9.68,"v":-1.5,"lo":-2.5,"hi":-0.5},{"t":9.70,"v":-6.0,"lo":-7.0,"hi":-5.0},{"t":9.72,"v":-10.0,"lo":-11.0,"hi":-9.0},{"t":9.74,"v":-3.0,"lo":-4.0,"hi":-2.0},{"t":9.75,"v":2.6,"lo":1.6,"hi":3.6},{"t":9.77,"v":-2.0,"lo":-3.0,"hi":-1.0},{"t":9.79,"v":-7.0,"lo":-8.0,"hi":-6.0},{"t":9.81,"v":-5.0,"lo":-5.8,"hi":-4.2},{"t":9.85,"v":-4.0,"lo":-4.7,"hi":-3.3},{"t":9.95,"v":-3.6,"lo":-4.3,"hi":-2.9},{"t":10.10,"v":-3.5,"lo":-4.2,"hi":-2.8},{"t":10.22,"v":-3.4,"lo":-4.1,"hi":-2.7},{"t":10.26,"v":-3.0,"lo":-3.7,"hi":-2.3},{"t":10.28,"v":-1.5,"lo":-2.5,"hi":-0.5},{"t":10.30,"v":2.0,"lo":1.0,"hi":3.0},{"t":10.32,"v":5.0,"lo":4.0,"hi":6.0},{"t":10.34,"v":11.6,"lo":10.6,"hi":13.0},{"t":10.36,"v":0.0,"lo":-1.0,"hi":1.0},{"t":10.38,"v":-5.5,"lo":-6.5,"hi":-4.5},{"t":10.40,"v":3.0,"lo":2.0,"hi":4.0},{"t":10.42,"v":10.0,"lo":9.0,"hi":11.5},{"t":10.43,"v":20.0,"lo":19.0,"hi":23.0},{"t":10.45,"v":32.5,"lo":31.0,"hi":37.5},{"t":10.46,"v":25.0,"lo":24.0,"hi":28.0},{"t":10.47,"v":14.1,"lo":13.0,"hi":15.5},{"t":10.48,"v":20.0,"lo":19.0,"hi":22.5},{"t":10.50,"v":-0.3,"lo":-1.3,"hi":0.7},{"t":10.52,"v":16.1,"lo":15.0,"hi":18.0},{"t":10.54,"v":8.0,"lo":7.0,"hi":9.0},{"t":10.56,"v":3.8,"lo":2.8,"hi":4.8},{"t":10.58,"v":12.0,"lo":11.0,"hi":13.5},{"t":10.60,"v":18.2,"lo":17.2,"hi":21.0},{"t":10.62,"v":6.0,"lo":5.0,"hi":7.0},{"t":10.63,"v":-6.4,"lo":-7.4,"hi":-5.4},{"t":10.65,"v":5.0,"lo":4.0,"hi":6.0},{"t":10.67,"v":1.8,"lo":0.8,"hi":2.8},{"t":10.69,"v":-10.0,"lo":-11.5,"hi":-9.0},{"t":10.71,"v":5.0,"lo":4.0,"hi":6.0},{"t":10.72,"v":17.0,"lo":16.0,"hi":19.5},{"t":10.74,"v":-2.3,"lo":-3.3,"hi":-1.3},{"t":10.76,"v":-8.0,"lo":-9.0,"hi":-7.0},{"t":10.77,"v":-9.3,"lo":-10.3,"hi":-8.3},{"t":10.79,"v":-6.0,"lo":-7.0,"hi":-5.0},{"t":10.81,"v":-4.75,"lo":-5.5,"hi":-4.0},{"t":10.85,"v":-4.2,"lo":-4.9,"hi":-3.5},{"t":10.90,"v":-3.7,"lo":-4.4,"hi":-3.0},{"t":10.95,"v":-3.4,"lo":-4.1,"hi":-2.7},{"t":11.05,"v":-3.3,"lo":-4.0,"hi":-2.6},{"t":11.15,"v":-3.2,"lo":-3.9,"hi":-2.5},{"t":11.25,"v":-3.2,"lo":-3.9,"hi":-2.5},{"t":11.29,"v":-2.5,"lo":-3.3,"hi":-1.5},{"t":11.32,"v":1.8,"lo":0.8,"hi":3.0},{"t":11.35,"v":8.0,"lo":7.0,"hi":9.5},{"t":11.38,"v":13.0,"lo":12.0,"hi":15.0},{"t":11.41,"v":16.0,"lo":15.0,"hi":18.5},{"t":11.44,"v":17.5,"lo":16.5,"hi":20.5},{"t":11.46,"v":18.5,"lo":17.5,"hi":21.5},{"t":11.48,"v":19.0,"lo":18.0,"hi":22.0},{"t":11.50,"v":10.0,"lo":9.0,"hi":11.0},{"t":11.52,"v":14.0,"lo":13.0,"hi":15.5},{"t":11.54,"v":9.0,"lo":8.0,"hi":10.0},{"t":11.55,"v":16.1,"lo":15.0,"hi":18.5},{"t":11.57,"v":8.0,"lo":7.0,"hi":9.0},{"t":11.59,"v":2.0,"lo":1.0,"hi":3.0},{"t":11.60,"v":-3.9,"lo":-4.9,"hi":-2.9},{"t":11.62,"v":11.0,"lo":10.0,"hi":12.0},{"t":11.64,"v":6.0,"lo":5.0,"hi":7.0},{"t":11.665,"v":17.5,"lo":16.5,"hi":19.5},{"t":11.69,"v":-2.3,"lo":-3.3,"hi":-1.3},{"t":11.70,"v":6.7,"lo":5.7,"hi":7.7},{"t":11.72,"v":-5.2,"lo":-6.2,"hi":-4.2},{"t":11.74,"v":6.8,"lo":5.8,"hi":7.8},{"t":11.76,"v":-9.3,"lo":-10.5,"hi":-8.3},{"t":11.78,"v":-8.0,"lo":-9.0,"hi":-7.0},{"t":11.80,"v":-5.5,"lo":-6.3,"hi":-4.7},{"t":11.83,"v":-4.3,"lo":-5.0,"hi":-3.6},{"t":11.90,"v":-4.2,"lo":-4.9,"hi":-3.5},{"t":12.00,"v":-4.1,"lo":-4.8,"hi":-3.4},{"t":12.10,"v":-4.0,"lo":-4.7,"hi":-3.3},{"t":12.20,"v":-3.9,"lo":-4.6,"hi":-3.2},{"t":12.28,"v":-3.6,"lo":-4.3,"hi":-2.9},{"t":12.31,"v":-1.5,"lo":-2.5,"hi":-0.5},{"t":12.33,"v":2.0,"lo":1.0,"hi":3.5},{"t":12.35,"v":7.0,"lo":6.0,"hi":8.5},{"t":12.37,"v":11.0,"lo":10.0,"hi":12.5},{"t":12.39,"v":14.5,"lo":13.5,"hi":16.5},{"t":12.41,"v":16.5,"lo":15.5,"hi":19.0},{"t":12.43,"v":17.5,"lo":16.5,"hi":20.5},{"t":12.45,"v":18.1,"lo":17.1,"hi":21.0},{"t":12.47,"v":17.0,"lo":16.0,"hi":19.5},{"t":12.49,"v":14.0,"lo":13.0,"hi":15.5},{"t":12.51,"v":9.0,"lo":8.0,"hi":10.0},{"t":12.53,"v":3.0,"lo":2.0,"hi":4.0},{"t":12.55,"v":-6.8,"lo":-7.8,"hi":-5.8},{"t":12.57,"v":-2.0,"lo":-3.0,"hi":-1.0},{"t":12.59,"v":2.0,"lo":1.0,"hi":3.0},{"t":12.61,"v":-2.0,"lo":-3.0,"hi":-1.0},{"t":12.63,"v":1.5,"lo":0.5,"hi":2.5},{"t":12.65,"v":-3.0,"lo":-4.0,"hi":-2.0},{"t":12.67,"v":2.0,"lo":1.0,"hi":3.0},{"t":12.69,"v":-2.5,"lo":-3.5,"hi":-1.5},{"t":12.71,"v":-4.0,"lo":-4.8,"hi":-3.2},{"t":12.74,"v":-5.2,"lo":-6.0,"hi":-4.4},{"t":12.77,"v":-4.0,"lo":-4.7,"hi":-3.3},{"t":12.80,"v":-3.8,"lo":-4.5,"hi":-3.1},{"t":12.86,"v":-3.6,"lo":-4.3,"hi":-2.9},{"t":12.92,"v":-3.4,"lo":-4.1,"hi":-2.7},{"t":13.00,"v":-3.2,"lo":-3.9,"hi":-2.5}
]},
"layer":[
{"data":{"name":"sim"},"mark":{"type":"area","color":"#c8c8c8","opacity":0.85},
 "encoding":{
  "x":{"field":"t","type":"quantitative","scale":{"domain":[0,13],"nice":false,"zero":false},
   "axis":{"orient":"bottom","values":[0,1,2,3,4,5,6,7,8,9,10,11,12,13],"labelExpr":"datum.value + 22 > 31 ? datum.value - 9 : datum.value + 22","labelFlush":false,"labelOverlap":false,"grid":false,"tickSize":-9,"tickWidth":2,"tickColor":"#262626","domainColor":"#262626","domainWidth":2.5,"labelFont":"DejaVu Sans","labelFontSize":24,"labelColor":"#262626","labelPadding":24,"title":"March - April (day)","titleFont":"DejaVu Serif","titleFontWeight":"normal","titleFontSize":26,"titleColor":"#505050","titlePadding":4}},
  "y":{"field":"lo","type":"quantitative","scale":{"domain":[-20,40],"nice":false,"zero":false},
   "axis":{"orient":"left","values":[-20,-10,0,10,20,30,40],"labelExpr":"datum.value < 0 ? '-' + abs(datum.value) : '' + datum.value","labelFlush":false,"labelOverlap":false,"grid":false,"tickSize":-9,"tickWidth":2,"tickColor":"#262626","domainColor":"#262626","domainWidth":2.5,"labelFont":"DejaVu Sans","labelFontSize":24,"labelColor":"#262626","labelPadding":21,"title":"𝑗ₛᵧₛₜ (W · m⁻²)","titleFont":"DejaVu Serif","titleFontWeight":"normal","titleFontSize":27,"titleColor":"#505050","titlePadding":10}},
  "y2":{"field":"hi"}
 }},
{"data":{"name":"exp"},"mark":{"type":"line","strokeWidth":4.5,"strokeJoin":"round","strokeCap":"round"},
 "encoding":{
  "x":{"field":"t","type":"quantitative","axis":{"orient":"top","values":[0,1,2,3,4,5,6,7,8,9,10,11,12,13],"labels":false,"grid":false,"tickSize":-9,"tickWidth":2,"tickColor":"#262626","domainColor":"#262626","domainWidth":2.5,"title":null}},
  "y":{"field":"v","type":"quantitative","axis":{"orient":"right","values":[-20,-10,0,10,20,30,40],"labels":false,"grid":false,"tickSize":-9,"tickWidth":2,"tickColor":"#262626","domainColor":"#262626","domainWidth":2.5,"title":null}},
  "color":{"datum":"Experiment","type":"nominal","scale":{"domain":["Experiment","Simulation"],"range":["#0072BD","#1a1aad"]},
   "legend":{"title":null,"orient":"none","legendX":492,"legendY":12,"direction":"vertical","symbolSize":3000,"clipHeight":29,"labelFont":"Liberation Serif","labelFontSize":24,"labelColor":"#111111","labelOffset":6,"rowPadding":0,"symbolStrokeWidth":3,
    "encode":{"symbols":{"update":{
      "shape":{"signal":"datum.value === 'Experiment' ? 'circle' : 'stroke'"},
      "size":{"signal":"datum.value === 'Experiment' ? 20 : 3000"},
      "fill":{"signal":"datum.value === 'Experiment' ? '#0072BD' : 'transparent'"},
      "stroke":{"signal":"datum.value === 'Experiment' ? 'transparent' : '#1a1aad'"},
      "strokeDash":{"signal":"datum.value === 'Experiment' ? [1,0] : [8,3,3,3]"},
      "strokeWidth":{"value":3}
    }}}}}
 }},
{"data":{"name":"sim"},"mark":{"type":"line","strokeWidth":3,"strokeDash":[7,3,2,3]},
 "encoding":{
  "x":{"field":"t","type":"quantitative","axis":null},
  "y":{"field":"v","type":"quantitative","axis":null},
  "color":{"datum":"Simulation","type":"nominal"}
 }}
],
"resolve":{"axis":{"x":"independent","y":"independent"}}
}
